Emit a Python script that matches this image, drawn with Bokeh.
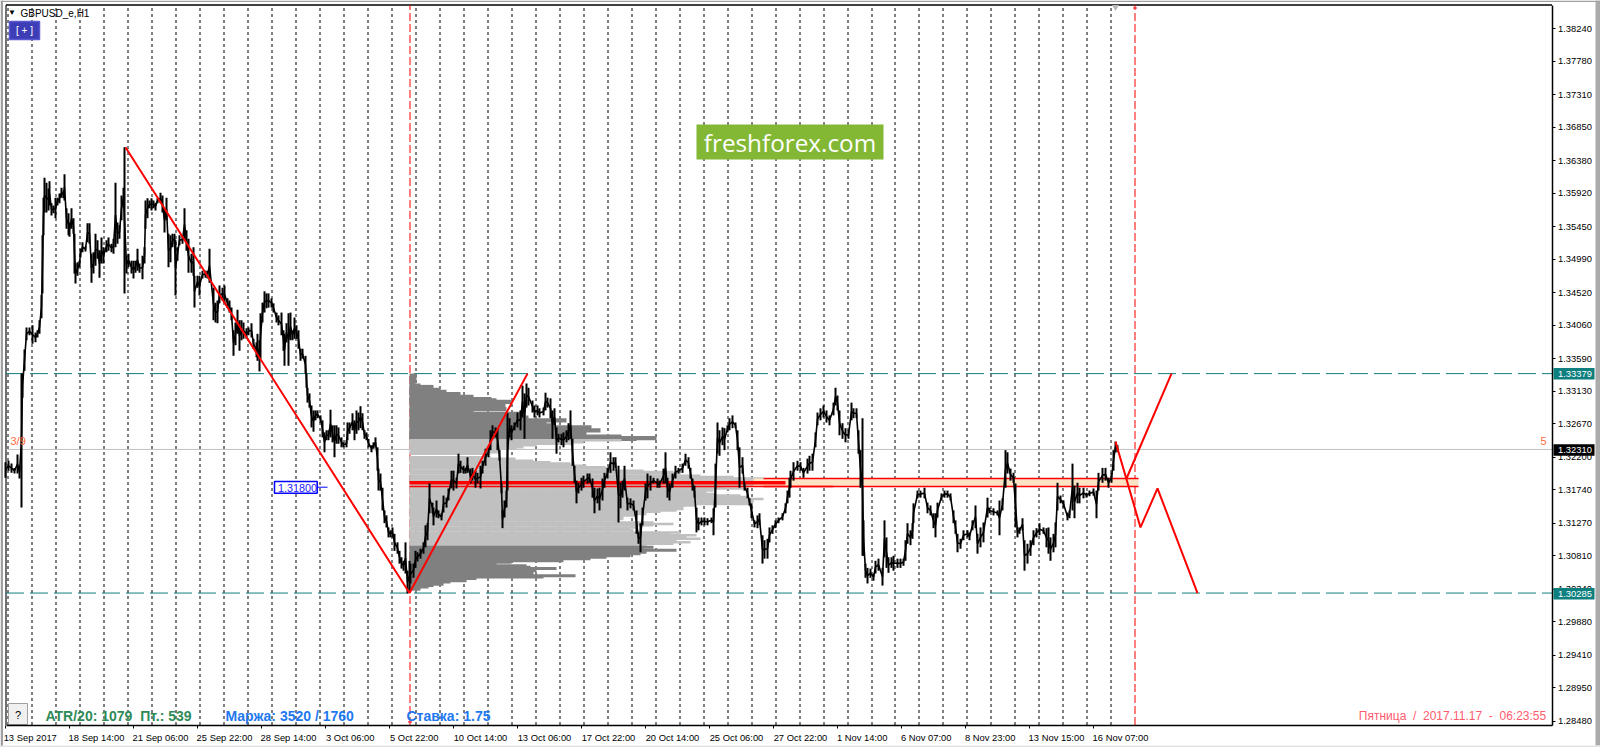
from bokeh.plotting import figure
from bokeh.models import Range1d, LinearAxis, FixedTicker, Label, NumeralTickFormatter
from bokeh.embed import file_html
from bokeh.resources import INLINE
import numpy as np

symbol = "GBPUSD_e,H1"
y_tick_values = [1.38240,1.37780,1.37310,1.36850,1.36380,1.35920,1.35450,1.34990,1.34520,1.34060,1.33590,1.33130,1.32670,1.32200,1.31740,1.31270,1.30810,1.30340,1.29880,1.29410,1.28950,1.28480]
x_tick_bars = [5,69,133,197,261,325,389,453,517,581,645,709,773,837,901,965,1029,1093]
x_tick_labels = ["13 Sep 2017","18 Sep 14:00","21 Sep 06:00","25 Sep 22:00","28 Sep 14:00","3 Oct 06:00","5 Oct 22:00","10 Oct 14:00","13 Oct 06:00","17 Oct 22:00","20 Oct 14:00","25 Oct 06:00","27 Oct 22:00","1 Nov 14:00","6 Nov 07:00","8 Nov 23:00","13 Nov 15:00","16 Nov 07:00"]
day_separators = [7.5+24*k for k in range(37)] + [894.5,918.5,942.5,966.5,990.5,1014.5,1038.5,1062.5,1086.5,1110.5]
event_bars = [409.5,1134.5]
level_high = 1.33379
level_low = 1.30285
level_bid = 1.32310

# Price bars: bar number, high and low in units of 0.0001
bar_x = [5,8,11,14,17,19,21,22,24,26,
29,32,35,37,39,41,42,43,44,46,
48,49,51,53,55,57,59,61,63,64,
66,68,69,71,73,74,75,77,79,80,
82,85,87,89,91,93,95,97,99,101,
103,106,108,111,113,115,117,119,121,123,
124,126,128,131,133,135,137,139,142,144,
145,147,149,151,153,155,157,160,162,164,
166,168,170,172,174,175,177,179,182,184,
186,188,191,193,194,197,199,202,205,207,
209,213,215,217,219,222,224,227,229,231,
233,235,237,239,241,243,246,248,251,253,
256,257,259,260,262,264,266,268,271,273,
276,278,281,283,284,286,288,290,292,294,
296,298,300,302,305,306,307,309,311,313,
315,317,320,322,324,326,328,330,332,334,
336,338,341,343,346,347,349,352,354,356,
358,360,362,364,366,368,371,373,375,377,
378,380,382,384,386,388,390,392,394,397,
399,401,403,405,407,409,410,413,415,417,
420,423,425,427,429,432,433,436,438,441,
443,446,448,451,453,456,458,460,463,465,
467,470,472,475,477,480,482,485,488,490,
492,495,497,499,501,502,504,506,507,509,
511,514,517,520,522,524,526,528,532,534,
537,539,543,545,547,550,552,554,556,558,
561,563,566,568,570,572,574,576,578,581,
583,587,589,592,594,597,599,602,604,607,
610,613,615,618,620,622,624,627,630,633,
636,638,640,642,645,647,650,653,657,659,
663,665,667,669,672,675,678,682,685,688,
690,692,694,696,698,701,704,707,711,713,
715,717,719,722,724,727,729,732,735,737,
739,742,744,747,749,751,754,757,759,762,
764,767,769,772,775,778,782,785,787,789,
790,793,797,800,803,807,809,812,815,817,
820,823,826,829,833,835,837,839,842,845,
848,851,853,856,858,860,862,863,865,867,
870,873,875,878,882,884,886,888,891,893,
897,900,903,905,907,910,912,913,917,920,
924,927,930,933,935,937,941,944,947,950,
953,955,957,960,963,967,969,972,975,977,
980,983,987,989,993,997,999,1002,1005,1007,
1010,1013,1015,1017,1019,1022,1024,1027,1030,1033,
1036,1039,1043,1046,1048,1050,1053,1055,1057,1060,
1063,1067,1069,1072,1074,1077,1079,1083,1086,1089,
1093,1096,1098,1102,1105,1108,1111,1113,1115,1117]

bar_high = [13213,13215,13211,13205,13224,13208,13338,13338,13372,13403,
13403,13406,13396,13399,13413,13449,13533,13586,13614,13607,
13599,13609,13578,13575,13586,13586,13592,13600,13596,13619,
13571,13564,13551,13571,13557,13535,13493,13495,13497,13514,
13523,13517,13550,13550,13507,13509,13535,13526,13512,13530,
13516,13526,13530,13521,13528,13607,13551,13547,13589,13600,
13657,13504,13507,13497,13497,13497,13514,13493,13504,13516,
13582,13585,13582,13585,13582,13579,13585,13593,13589,13571,
13586,13535,13533,13535,13535,13526,13516,13533,13533,13571,
13540,13528,13507,13516,13476,13476,13476,13483,13483,13483,
13514,13459,13438,13441,13462,13459,13462,13444,13441,13431,
13399,13410,13428,13413,13413,13410,13402,13403,13409,13387,
13382,13394,13385,13423,13438,13454,13451,13451,13444,13437,
13424,13420,13424,13399,13394,13409,13423,13424,13399,13417,
13406,13399,13373,13373,13363,13338,13318,13310,13293,13286,
13286,13286,13279,13272,13255,13258,13258,13287,13265,13265,
13265,13262,13248,13241,13244,13269,13269,13282,13272,13286,
13283,13292,13282,13258,13255,13246,13237,13241,13248,13234,
13204,13197,13177,13145,13138,13121,13117,13121,13112,13100,
13088,13079,13074,13100,13060,13074,13070,13070,13088,13086,
13091,13100,13124,13127,13183,13156,13149,13159,13145,13141,
13166,13163,13176,13201,13201,13191,13225,13215,13208,13205,
13220,13204,13205,13201,13198,13208,13215,13232,13234,13258,
13265,13262,13261,13230,13183,13145,13159,13173,13282,13275,
13265,13269,13283,13286,13321,13310,13324,13318,13300,13293,
13293,13289,13290,13311,13304,13303,13286,13289,13262,13253,
13253,13255,13258,13268,13286,13246,13208,13187,13184,13191,
13194,13197,13197,13190,13177,13176,13177,13190,13198,13205,
13227,13220,13220,13208,13184,13187,13208,13163,13162,13159,
13145,13114,13127,13149,13183,13197,13194,13191,13190,13187,
13204,13227,13191,13183,13197,13208,13205,13211,13225,13220,
13205,13190,13180,13149,13135,13135,13135,13134,13135,13148,
13211,13269,13258,13262,13261,13265,13275,13279,13269,13258,
13234,13220,13184,13177,13162,13155,13131,13138,13141,13110,
13103,13105,13121,13124,13131,13135,13141,13155,13173,13191,
13201,13213,13215,13213,13205,13218,13222,13225,13255,13283,
13289,13293,13286,13279,13297,13318,13307,13286,13268,13261,
13258,13297,13289,13289,13258,13230,13275,13131,13070,13064,
13063,13056,13074,13077,13064,13131,13107,13079,13079,13081,
13077,13077,13077,13103,13127,13117,13127,13155,13173,13173,
13177,13156,13152,13141,13141,13156,13169,13173,13173,13169,
13145,13131,13112,13105,13117,13117,13114,13131,13152,13112,
13121,13128,13163,13149,13148,13145,13159,13162,13230,13227,
13204,13198,13183,13121,13121,13134,13103,13098,13103,13117,
13120,13127,13121,13120,13121,13107,13112,13128,13184,13166,
13159,13142,13145,13211,13180,13184,13177,13177,13170,13173,
13176,13173,13198,13205,13205,13191,13198,13230,13242,13237]

bar_low = [13191,13201,13198,13197,13197,13190,13149,13304,13342,13385,
13392,13380,13382,13389,13394,13416,13451,13533,13565,13565,
13568,13575,13561,13564,13557,13575,13578,13586,13585,13582,
13542,13533,13531,13542,13535,13479,13465,13476,13488,13502,
13509,13510,13523,13521,13466,13479,13490,13500,13473,13493,
13493,13509,13511,13509,13507,13516,13521,13528,13554,13572,
13451,13479,13488,13479,13472,13480,13483,13480,13471,13493,
13542,13557,13571,13568,13571,13568,13578,13578,13565,13537,
13554,13488,13495,13516,13521,13448,13497,13519,13521,13526,
13511,13480,13480,13476,13431,13459,13448,13472,13473,13472,
13466,13413,13410,13409,13437,13441,13437,13431,13424,13413,
13363,13378,13394,13370,13385,13387,13387,13392,13389,13373,
13361,13356,13341,13359,13410,13424,13430,13431,13431,13424,
13410,13406,13392,13370,13349,13382,13349,13385,13385,13387,
13387,13373,13356,13359,13338,13318,13297,13290,13262,13256,
13272,13275,13269,13248,13227,13244,13244,13248,13241,13220,
13239,13239,13234,13234,13234,13244,13253,13258,13244,13253,
13258,13261,13258,13246,13244,13234,13227,13232,13234,13201,
13173,13173,13145,13127,13121,13107,13107,13107,13088,13084,
13070,13063,13060,13056,13028,13032,13042,13050,13064,13073,
13077,13084,13093,13103,13141,13141,13124,13135,13134,13131,
13142,13149,13159,13176,13173,13176,13197,13198,13197,13197,
13198,13183,13187,13177,13183,13176,13197,13208,13220,13230,
13246,13248,13230,13215,13169,13120,13135,13149,13173,13248,
13244,13258,13262,13258,13276,13246,13290,13293,13283,13276,
13279,13276,13279,13286,13290,13275,13246,13265,13225,13241,
13237,13234,13241,13244,13246,13208,13184,13155,13169,13173,
13177,13183,13184,13163,13141,13155,13145,13159,13177,13190,
13198,13201,13205,13128,13148,13163,13173,13145,13148,13145,
13112,13098,13086,13124,13159,13162,13173,13183,13177,13177,
13183,13183,13163,13159,13177,13190,13197,13198,13208,13204,
13190,13173,13163,13114,13117,13124,13124,13124,13127,13110,
13149,13225,13222,13237,13230,13255,13258,13261,13261,13230,
13177,13197,13173,13162,13152,13134,13121,13120,13124,13070,
13077,13077,13100,13112,13120,13127,13131,13141,13155,13163,
13177,13187,13201,13201,13191,13197,13201,13201,13234,13265,
13272,13276,13269,13265,13279,13293,13286,13251,13246,13241,
13246,13272,13275,13275,13225,13177,13081,13081,13050,13042,
13050,13046,13056,13060,13039,13079,13064,13057,13064,13060,
13064,13064,13067,13074,13098,13096,13105,13127,13162,13163,
13162,13141,13138,13120,13107,13135,13159,13163,13163,13159,
13127,13112,13086,13091,13103,13107,13103,13117,13120,13084,
13093,13100,13135,13141,13138,13138,13110,13145,13177,13197,
13187,13184,13121,13107,13112,13117,13060,13070,13081,13096,
13107,13110,13112,13093,13084,13074,13086,13093,13145,13155,
13149,13131,13134,13145,13134,13155,13155,13162,13163,13165,
13166,13134,13173,13184,13187,13177,13184,13201,13227,13227]

# Volume profile: price level (units of 0.0001) and length in bars
vp_top_price = [13335,13331,13326,13321,13319,13315,13312,13309,13305,13302,13300,13298,13293,13288,13286,13281,13276,13272,13269,13265,13262,13258,13255,13253,13249,13247,13246]
vp_top_len = [7,7,6,11,24,31,37,51,64,82,87,102,96,97,64,111,119,157,137,144,182,191,171,177,212,247,227]
vp_mid_price = [13244,13241,13239,13237,13234,13232,13230,13227,13225,13220,13218,13215,13213,13211,13208,13206,13204,13201,13199,13197,13194,13192,13190,13187,13185,13183,13180,13178,13176,13173,13171,13168,13166,13164,13161,13159,13157,13154,13152,13150,13147,13145,13143,13140,13138,13136,13133,13131,13128,13126,13124,13121,13119,13117,13114,13112,13110,13107,13105,13103,13100,13098,13096]
vp_mid_len = [212,174,162,127,114,107,91,91,81,81,106,124,141,161,177,196,201,234,264,271,291,324,354,377,377,377,377,314,334,304,297,306,331,337,354,344,344,339,287,274,274,267,251,237,227,214,214,209,244,264,244,227,221,224,271,261,287,277,291,267,281,264,237]
vp_low_price = [13093,13091,13089,13086,13084,13081,13079,13077,13074,13072,13070,13067,13065,13063,13060,13058,13056,13053,13051,13049,13046,13044,13041,13039,13037,13034]
vp_low_len = [244,234,267,237,231,221,197,181,154,102,87,117,121,147,127,116,124,166,134,67,57,41,34,24,19,11]
vp_start_bar = 409

# Hand-drawn zigzag and forecast lines
zig_x = [125,409,527]
zig_price = [1.3657,1.30285,1.33379]
fc1_x = [1115,1140,1157,1197]
fc1_price = [1.3242,1.3121,1.3176,1.30285]
fc2_x = [1126,1171]
fc2_price = [1.3190,1.33379]
zone_top = 1.3190
zone_bottom = 1.31787
poc_price = 1.3184

def Y(py):
    return 1.3864 - 0.000141*py

L, R, T, B = 5.5, 1551.5, 4.5, 724.5
p = figure(width=1600, height=747, output_backend="svg", toolbar_location=None,
           x_range=Range1d(0,1600), y_range=Range1d(Y(747),Y(0)),
           min_border_left=0, min_border_right=0, min_border_top=0, min_border_bottom=0,
           x_axis_location=None, y_axis_location=None,
           background_fill_color="white", border_fill_color="white", outline_line_color=None)
p.grid.visible = False

FONT = "Liberation Sans"
yax = LinearAxis(ticker=FixedTicker(ticks=y_tick_values), fixed_location=R, bounds=(Y(B),Y(T)))
yax.formatter = NumeralTickFormatter(format="0.00000")
yax.major_tick_in = 0; yax.major_tick_out = 3; yax.minor_tick_line_color = None
yax.major_label_standoff = 3
yax.major_label_text_font = FONT; yax.major_label_text_font_size = "9.4px"; yax.major_label_text_color = "black"
yax.axis_line_color = "black"; yax.major_tick_line_color = "black"; yax.axis_line_width = 1.5
p.add_layout(yax, "right")

# Each date label is centred half its width past its tick; the tick marks sit at the real bars
half_w = [len(s)*2.25 for s in x_tick_labels]
label_centres = [t+h for t, h in zip(x_tick_bars, half_w)]
xax = LinearAxis(ticker=FixedTicker(ticks=label_centres, minor_ticks=x_tick_bars), fixed_location=Y(B), bounds=(L,R),
                 major_label_overrides={c: s for c, s in zip(label_centres, x_tick_labels)})
xax.axis_line_color = "black"; xax.axis_line_width = 1.5
xax.major_tick_line_color = None; xax.major_tick_in = 0; xax.major_tick_out = 0
xax.minor_tick_line_color = "black"; xax.minor_tick_in = 0; xax.minor_tick_out = 3
xax.major_label_standoff = 4
xax.major_label_text_font = FONT; xax.major_label_text_font_size = "9.4px"; xax.major_label_text_color = "black"
p.add_layout(xax, "below")

def box(l, t, r, b, fill, line=None, lw=1, **kw):
    p.quad(left=[l], right=[r], top=[Y(t)], bottom=[Y(b)], fill_color=fill, line_color=line, line_width=lw, **kw)

# Window edges and chart frame
box(0,0,2.5,747,"#a0a0a0")
box(1595,0,1600,745,"#ababab")
box(0,0,1600,1.5,"#a0a0a0")
box(0,745,1600,747,"#e4e4e4")
p.line([L,L],[Y(T),Y(B)], line_color="#404040", line_width=1.5)
p.line([L,R],[Y(T),Y(T)], line_color="black", line_width=1.5)

top, bot = Y(T), Y(B)
p.segment(day_separators, [bot]*len(day_separators), day_separators, [top]*len(day_separators),
          line_color="black", line_width=1, line_dash="3 3")
p.segment(event_bars, [bot]*2, event_bars, [top]*2, line_color="#ff0000", line_width=1, line_dash="8 3")
for ex, py in zip(event_bars, (B-3, T+3)):
    p.line([ex-2,ex+2],[Y(py),Y(py)], line_color="red", line_width=1)

for lv in (level_high, level_low):
    p.line([L,R],[lv,lv], line_color="#0e7f7f", line_width=1, line_dash="18 6")
p.line([L,R],[level_bid,level_bid], line_color="#c0c0c0", line_width=1)

def vp(prices, lens, color, h):
    pr = np.array(prices)/1e4
    p.hbar(y=pr, left=vp_start_bar, right=vp_start_bar+np.array(lens), height=h, fill_color=color, line_color=None)
vp(vp_top_price, vp_top_len, "#808080", 0.00060)
vp(vp_mid_price, vp_mid_len, "#c0c0c0", 0.00036)
vp(vp_low_price, vp_low_len, "#808080", 0.00042)

p.quad(left=[753], right=[1138], top=[zone_top], bottom=[zone_bottom], fill_color="#fde3c4", line_color=None)
p.line([763,1138],[zone_top,zone_top], line_color="red", line_width=1.4)
p.line([763,1138],[zone_bottom,zone_bottom], line_color="red", line_width=1.4)
p.line([409,785],[poc_price,poc_price], line_color="red", line_width=3.5)
p.line([409,833],[zone_bottom,zone_bottom], line_color="red", line_width=1.4)

bx = np.array(bar_x); hi = np.array(bar_high)/1e4; lo = np.array(bar_low)/1e4
p.line(bx, (hi+lo)/2, line_color="black", line_width=1.6)
p.segment(bx, lo, bx, hi, line_color="black", line_width=2)

p.line(zig_x, zig_price, line_color="red", line_width=2)
p.line(fc1_x, fc1_price, line_color="red", line_width=2)
p.line(fc2_x, fc2_price, line_color="red", line_width=2)
p.line([317,327],[Y(486.7),Y(486.7)], line_color="#0000ff", line_width=1)
p.scatter([1115],[Y(6.5)], marker="inverted_triangle", size=7, fill_color="#b8b8b8", line_color=None)

box(696,124,883,159,"#82b834")
box(9,21,39,39,"#3d3db8","#5a5ad0",1.5)
box(8,703,27,724,"#f0f0f0","#a0a0a0")
box(274,481,316.7,492.7,"white","#0000ff",1.5)

def label(px, py, text, color="black", size="9.4px", font=FONT, align="left", style="normal", **kw):
    p.add_layout(Label(x=px, y=Y(py), text=text, text_color=color, text_font=font, text_font_size=size,
                       text_align=align, text_baseline="middle", text_font_style=style, **kw))

# Price flags over the right scale
for val, py, col in ((level_high,373.3,"#0e7f7f"),(level_bid,449.5,"black"),(level_low,593.3,"#0e7f7f")):
    box(1553,py-5.7,1594,py+5.7,col,level="annotation")
    label(1557.5, py, f"{val:.5f}", color="white", level="overlay")

label(277.5, 487, "1.31800", color="#2020ff", size="10.8px")
label(10, 440, "3/9", color="#ff6a3c", size="11px")
label(1543, 440, "5", color="#ff6a3c", size="11px", align="center")
label(20, 12.5, symbol, size="10px")
label(11.5, 12, "▼", size="8px", align="center")
label(24, 30, "[ + ]", color="white", size="10px", align="center")
label(17.5, 714, "?", size="11px", align="center")
nb = "\u00a0"
label(45, 715.7, f"ATR/20: 1079{nb}{nb}Пт.: 539", color="#2e8b57", size="14px", style="bold")
label(225, 715.7, "Маржа: 3520 / 1760", color="#1e78f0", size="14px", style="bold")
label(406, 715.7, "Ставка: 1.75", color="#1e78f0", size="14px", style="bold")
label(1545.7, 715, f"Пятница{nb}{nb}/{nb}{nb}2017.11.17{nb}{nb}-{nb}{nb}06:23:55", color="#ff5a6e", size="12px", align="right")
label(789.5, 141.5, "freshforex.com", color="white", size="24.3px", font="Open Sans", align="center")

out = file_html(p, INLINE)
open("out.html", "w").write(out)
